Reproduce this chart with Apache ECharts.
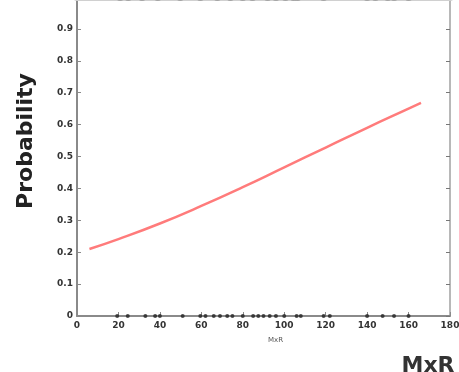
<!DOCTYPE html>
<html>
<head>
<meta charset="utf-8">
<script src="https://cdn.jsdelivr.net/npm/echarts@6/dist/echarts.min.js"></script>
<style>
  html, body { margin: 0; padding: 0; background: #fff; }
  #chart { width: 459px; height: 372px; }
</style>
</head>
<body>
<div id="chart"></div>
<script>
// Fitted probability curve against MxR
const curveX = [6, 20, 40, 60, 80, 100, 120, 140, 160, 166];
const curveP = [0.21, 0.241, 0.29, 0.345, 0.404, 0.466, 0.528, 0.59, 0.65, 0.668];

// Observed cases: outcome 0 (bottom rug) and outcome 1 (top rug)
const rugZeroX = [19.4, 24.5, 33, 37.7, 40, 51, 59.5, 62, 66, 69, 72.5, 75, 80, 85, 87.5, 90, 93, 96, 100, 106, 108, 119, 122, 140, 147.5, 153, 160];
const rugOneX = [20.8, 24.7, 31.4, 39, 49.8, 59.5, 67.7, 74, 80, 84.7, 92, 96, 100.6, 104.5, 106.4, 119, 140, 144, 150, 153, 160];

const xTicks = [0, 20, 40, 60, 80, 100, 120, 140, 160, 180];
const yTicks = [0, 0.1, 0.2, 0.3, 0.4, 0.5, 0.6, 0.7, 0.8, 0.9, 1];

const chart = echarts.init(document.getElementById('chart'), null, { renderer: 'canvas' });

const axisGray = '#8a8a8a';
const labelStyle = { color: '#333', fontSize: 9, fontFamily: 'DejaVu Sans', fontWeight: 'bold' };

chart.setOption({
  animation: false,
  backgroundColor: '#fff',
  grid: { left: 77, right: 9, bottom: 56, height: 319, containLabel: false, outerBoundsMode: 'none' },
  xAxis: [
    {
      type: 'value', min: xTicks[0], max: xTicks[xTicks.length - 1], interval: 20,
      axisLine: { show: true, lineStyle: { color: axisGray, width: 2 } },
      axisTick: { show: true, inside: true, length: 4, lineStyle: { color: axisGray } },
      axisLabel: Object.assign({ margin: 5, formatter: v => String(v) }, labelStyle),
      splitLine: { show: false }
    },
    {
      type: 'value', position: 'top', min: 0, max: 180, interval: 20,
      axisLine: { show: true, onZero: false, lineStyle: { color: '#d0d0d0', width: 8 } },
      axisTick: { show: false }, axisLabel: { show: false }, splitLine: { show: false }
    }
  ],
  yAxis: [
    {
      type: 'value', min: yTicks[0], max: yTicks[yTicks.length - 1], interval: 0.1,
      axisLine: { show: true, lineStyle: { color: axisGray, width: 2 } },
      axisTick: { show: true, inside: true, length: 4, lineStyle: { color: axisGray } },
      axisLabel: Object.assign({ margin: 4, formatter: v => (v === 0 || v === 1) ? String(v) : v.toFixed(1) }, labelStyle),
      splitLine: { show: false }
    },
    {
      type: 'value', position: 'right', min: 0, max: 1, interval: 0.1,
      axisLine: { show: true, onZero: false, lineStyle: { color: '#a0a0a0', width: 1.5 } },
      axisTick: { show: true, inside: true, length: 4, lineStyle: { color: '#777' } },
      axisLabel: { show: false }, splitLine: { show: false }
    }
  ],
  graphic: [
    {
      type: 'text', x: 26, y: 141, rotation: Math.PI / 2,
      style: {
        text: 'Probability', font: 'bold 22px "DejaVu Sans", sans-serif', fill: '#222',
        textAlign: 'center', textVerticalAlign: 'middle'
      }
    },
    {
      type: 'text', left: 268, top: 337,
      style: { text: 'MxR', font: '7px "DejaVu Sans", sans-serif', fill: '#555' }
    },
    {
      type: 'text', x: 428, y: 366,
      style: {
        text: 'MxR', font: 'bold 22px "DejaVu Sans", sans-serif', fill: '#333',
        textAlign: 'center', textVerticalAlign: 'middle'
      }
    }
  ],
  series: [
    {
      type: 'scatter', xAxisIndex: 0, yAxisIndex: 0,
      data: rugZeroX.map(x => [x, 0]),
      symbol: 'circle', symbolSize: 4,
      itemStyle: { color: '#222' }, z: 3
    },
    {
      type: 'scatter', xAxisIndex: 0, yAxisIndex: 0,
      data: rugOneX.map(x => [x, 1]),
      symbol: 'circle', symbolSize: 8,
      itemStyle: { color: '#999' }, z: 3
    },
    {
      type: 'line', xAxisIndex: 0, yAxisIndex: 0,
      data: curveX.map((x, i) => [x, curveP[i]]),
      smooth: true, showSymbol: false,
      lineStyle: { color: '#ff7b7b', width: 2.5 }, z: 4
    }
  ]
});
</script>
</body>
</html>
